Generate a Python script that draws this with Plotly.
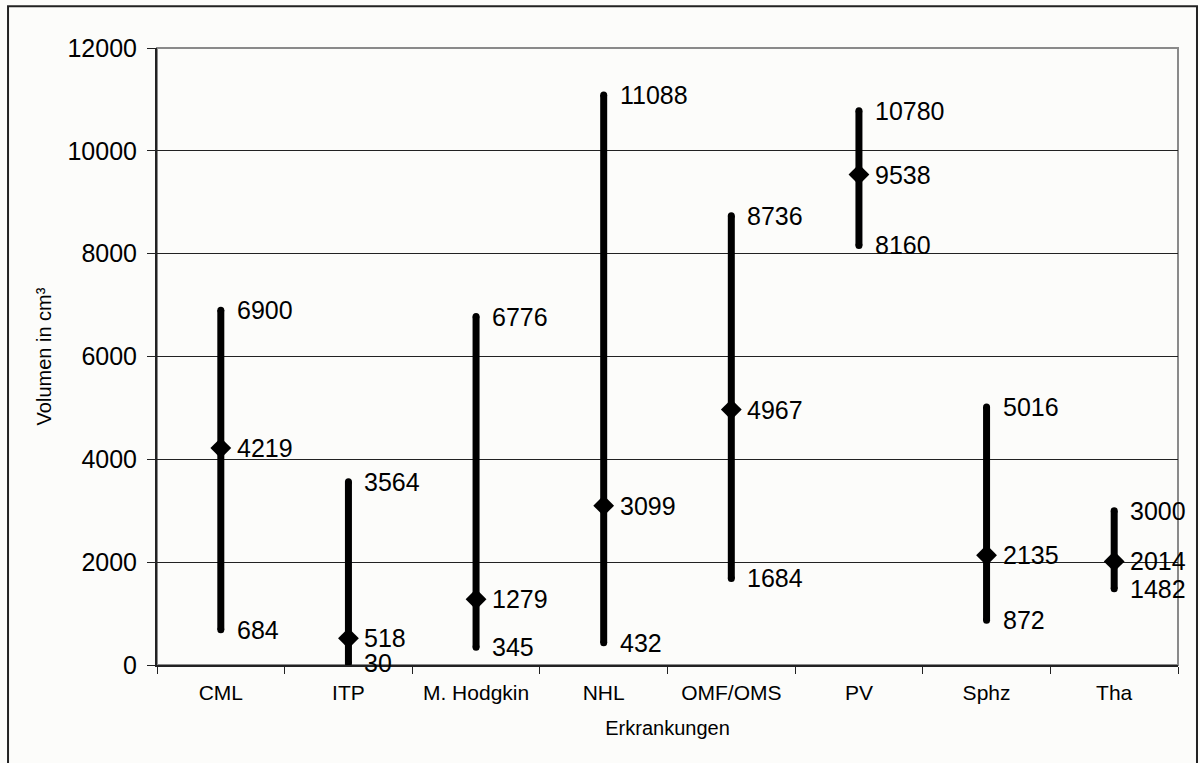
import plotly.graph_objects as go

categories = ["CML", "ITP", "M. Hodgkin", "NHL", "OMF/OMS", "PV", "Sphz", "Tha"]
max_vals = [6900, 3564, 6776, 11088, 8736, 10780, 5016, 3000]
min_vals = [684, 30, 345, 432, 1684, 8160, 872, 1482]
median_vals = [4219, 518, 1279, 3099, 4967, 9538, 2135, 2014]

FONT = "Liberation Sans, Arial, sans-serif"
BG = "#fcfcfa"

fig = go.Figure()

# vertical range lines
lx, ly = [], []
for c, lo, hi in zip(categories, min_vals, max_vals):
    lx += [c, c, None]
    ly += [lo, hi, None]
fig.add_trace(go.Scatter(x=lx, y=ly, mode="lines",
                         line=dict(color="black", width=7),
                         hoverinfo="skip", showlegend=False))
# rounded ends
fig.add_trace(go.Scatter(x=categories + categories, y=min_vals + max_vals,
                         mode="markers",
                         marker=dict(symbol="circle", size=7, color="black", line=dict(width=0)),
                         hoverinfo="skip", showlegend=False))
# median diamonds
fig.add_trace(go.Scatter(x=categories, y=median_vals, mode="markers",
                         marker=dict(symbol="diamond", size=16, color="black", line=dict(width=0)),
                         showlegend=False))

# value labels
for series in (max_vals, min_vals, median_vals):
    for c, v in zip(categories, series):
        fig.add_annotation(x=c, y=v, text=str(v), showarrow=False,
                           xanchor="left", yanchor="middle", xshift=14,
                           font=dict(family=FONT, size=25, color="black"))

# outer border
fig.add_shape(type="rect", xref="paper", yref="paper",
              x0=-0.1459, x1=1.0186, y0=-0.2, y1=1.0676,
              line=dict(color="#222222", width=2), layer="below")
# plot area border (right/top grey)
fig.add_shape(type="rect", xref="paper", yref="paper",
              x0=0, x1=1, y0=0, y1=1,
              line=dict(color="#8a8a8a", width=2), layer="below")

fig.update_layout(
    width=1200, height=763,
    margin=dict(l=157, r=22, t=48, b=98),
    paper_bgcolor=BG, plot_bgcolor=BG,
    font=dict(family=FONT, color="black"),
    xaxis=dict(
        type="category", categoryorder="array", categoryarray=categories,
        range=[-0.5, 7.5],
        showgrid=False, showline=True, linecolor="#222222", linewidth=2,
        ticks="outside", tickson="boundaries", ticklen=7, tickcolor="#222222",
        tickfont=dict(family=FONT, size=21),
        ticklabelstandoff=8,
        title=dict(text="Erkrankungen", font=dict(family=FONT, size=20), standoff=18),
    ),
    yaxis=dict(
        range=[0, 12000], dtick=2000, tick0=0, tickformat="d",
        showgrid=True, gridcolor="#222222", gridwidth=1,
        zeroline=False,
        showline=True, linecolor="#222222", linewidth=2,
        ticks="outside", ticklen=8, tickcolor="#222222",
        tickfont=dict(family=FONT, size=25),
        ticklabelstandoff=5,
        title=dict(text="Volumen in cm³", font=dict(family=FONT, size=20), standoff=10),
    ),
)

fig.write_html("out.html")
